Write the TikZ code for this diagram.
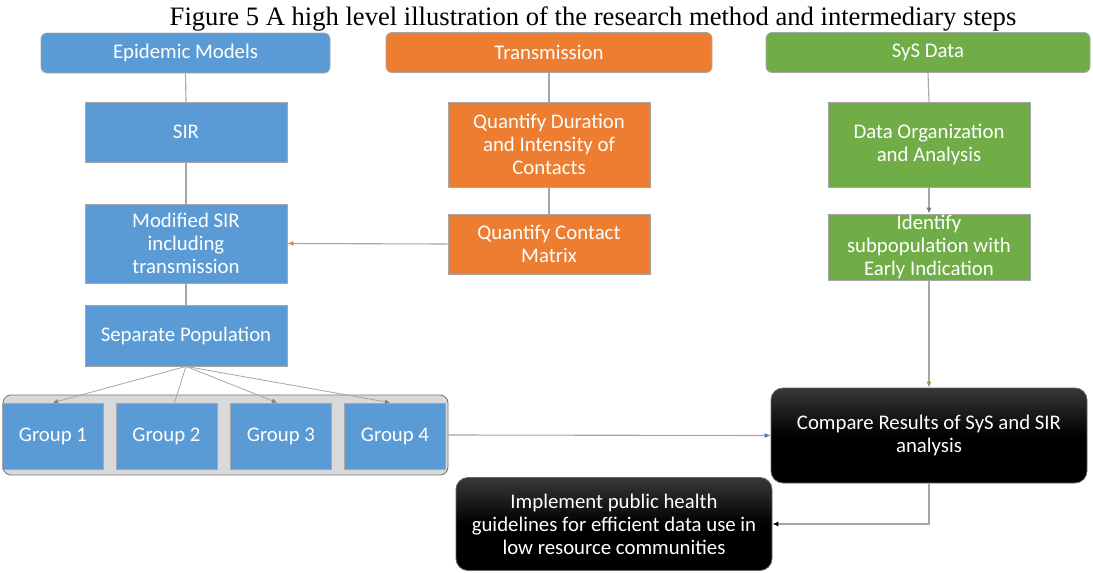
\documentclass[tikz,border=0pt]{standalone}
\usepackage{fontspec}
\setmainfont{Carlito}
\newfontfamily\capfont{Liberation Serif}
\usepackage{tikz}
\usetikzlibrary{arrows.meta}
\usetikzlibrary{calc}

\definecolor{epiblue}{HTML}{5B9BD5}
\definecolor{transorange}{HTML}{ED7D31}
\definecolor{sysgreen}{HTML}{70AD47}
\definecolor{linkgray}{HTML}{A6A6A6}

\tikzset{
  box/.style={draw=black!35, line width=0.8pt, text=white, align=center,
    inner sep=0pt, font=\fontsize{20.8}{23}\selectfont},
  head/.style={box, rounded corners=6pt, minimum height=40pt},
  stepbox/.style={box, minimum width=202pt},
  darkbox/.style={box, rounded corners=12pt, draw=black!60, top color=black!78,
    bottom color=black, middle color=black, minimum width=316pt},
  link/.style={draw=linkgray, line width=1.1pt},
}

\begin{document}
\begin{tikzpicture}[x=1pt,y=-1pt]
\useasboundingbox (0,0) rectangle (1093,573);

\draw(593,25) node[anchor=base, font=\capfont\fontsize{26.6}{28}\selectfont] (title)
  {Figure 5 A high level illustration of the research method and intermediary steps};

%% column headers
\draw(185.5,53) node[head, fill=epiblue, minimum width=289pt] (epi) {Epidemic Models};
\draw(549,52.5) node[head, fill=transorange, minimum width=326pt] (trans) {Transmission};
\draw(928,52.5) node[head, fill=sysgreen, minimum width=324pt] (sys) {SyS Data};

%% epidemic models column
\draw(186,132) node[stepbox, fill=epiblue, minimum height=60pt] (sir) {SIR};
\draw(186,243.5) node[stepbox, fill=epiblue, minimum height=79pt] (mod)
  {Modified SIR\\including\\transmission};
\draw(186,335.5) node[stepbox, fill=epiblue, minimum height=61pt] (sep) {Separate Population};

%% transmission column
\draw(549,144.5) node[stepbox, fill=transorange, minimum height=85pt] (dur)
  {Quantify Duration\\and Intensity of\\Contacts};
\draw(549,244) node[stepbox, fill=transorange, minimum height=60pt] (cmat)
  {Quantify Contact\\Matrix};

%% sys data column
\draw(929,144.5) node[stepbox, fill=sysgreen, minimum height=85pt] (org)
  {Data Organization\\and Analysis};
\draw(929,247) node[stepbox, fill=sysgreen, minimum height=66pt] (ident)
  {Identify\\subpopulation with\\Early Indication};

%% groups
\draw(225.5,435) node[draw=black!55, fill=black!15, rounded corners=8pt, line width=0.8pt,
  minimum width=445pt, minimum height=80pt] (grp) {};
\foreach \gx/\gn in {53/1,166.5/2,281/3,395/4}
  \draw(\gx,436) node[box, fill=epiblue, minimum width=101pt, minimum height=66pt] (g\gn) {Group \gn};

%% results
\draw(929,435.5) node[darkbox, minimum height=95pt] (cmp)
  {Compare Results of SyS and SIR\\analysis};
\draw(614,524) node[darkbox, minimum height=93pt] (impl)
  {Implement public health\\guidelines for efficient data use in\\low resource communities};

%% connectors
\draw[link] (epi.south) -- (sir.north);
\draw[link] (sir.south) -- (mod.north);
\draw[link] (mod.south) -- (sep.north);
\draw[link] (trans.south) -- (dur.north);
\draw[link] (dur.south) -- (cmat.north);
\draw[link, -{Latex[length=6pt,width=5pt,color=transorange]}] (cmat.west) -- (mod.east);
\draw[link] (sys.south) -- (org.north);
\draw[link, -{Latex[length=6pt,width=5pt,color=black!55]}] (org.south) -- (ident.north);
\draw[link, -{Latex[length=6pt,width=5pt,color=sysgreen]}] (ident.south) -- (cmp.north);

\draw[link, line width=0.8pt, -{Latex[length=5pt,width=5pt,color=black!50]}] (sep.south) -- (g1.north);
\draw[link, line width=0.8pt] (sep.south) -- ($(g2.north)+(8,0)$);
\draw[link, line width=0.8pt, -{Latex[length=5pt,width=5pt,color=black!50]}] (sep.south) -- ($(g3.north)+(-4,0)$);
\draw[link, line width=0.8pt, -{Latex[length=5pt,width=5pt,color=black!50]}] (sep.south) -- ($(g4.north)+(-5,0)$);

\draw[link, -{Latex[length=6pt,width=5pt,color=epiblue!80!black]}] (grp.east) -- (cmp.west);
\draw[link, -{Latex[length=6pt,width=5pt,color=black]}] (cmp.south) |- (impl.east);
\end{tikzpicture}
\end{document}
